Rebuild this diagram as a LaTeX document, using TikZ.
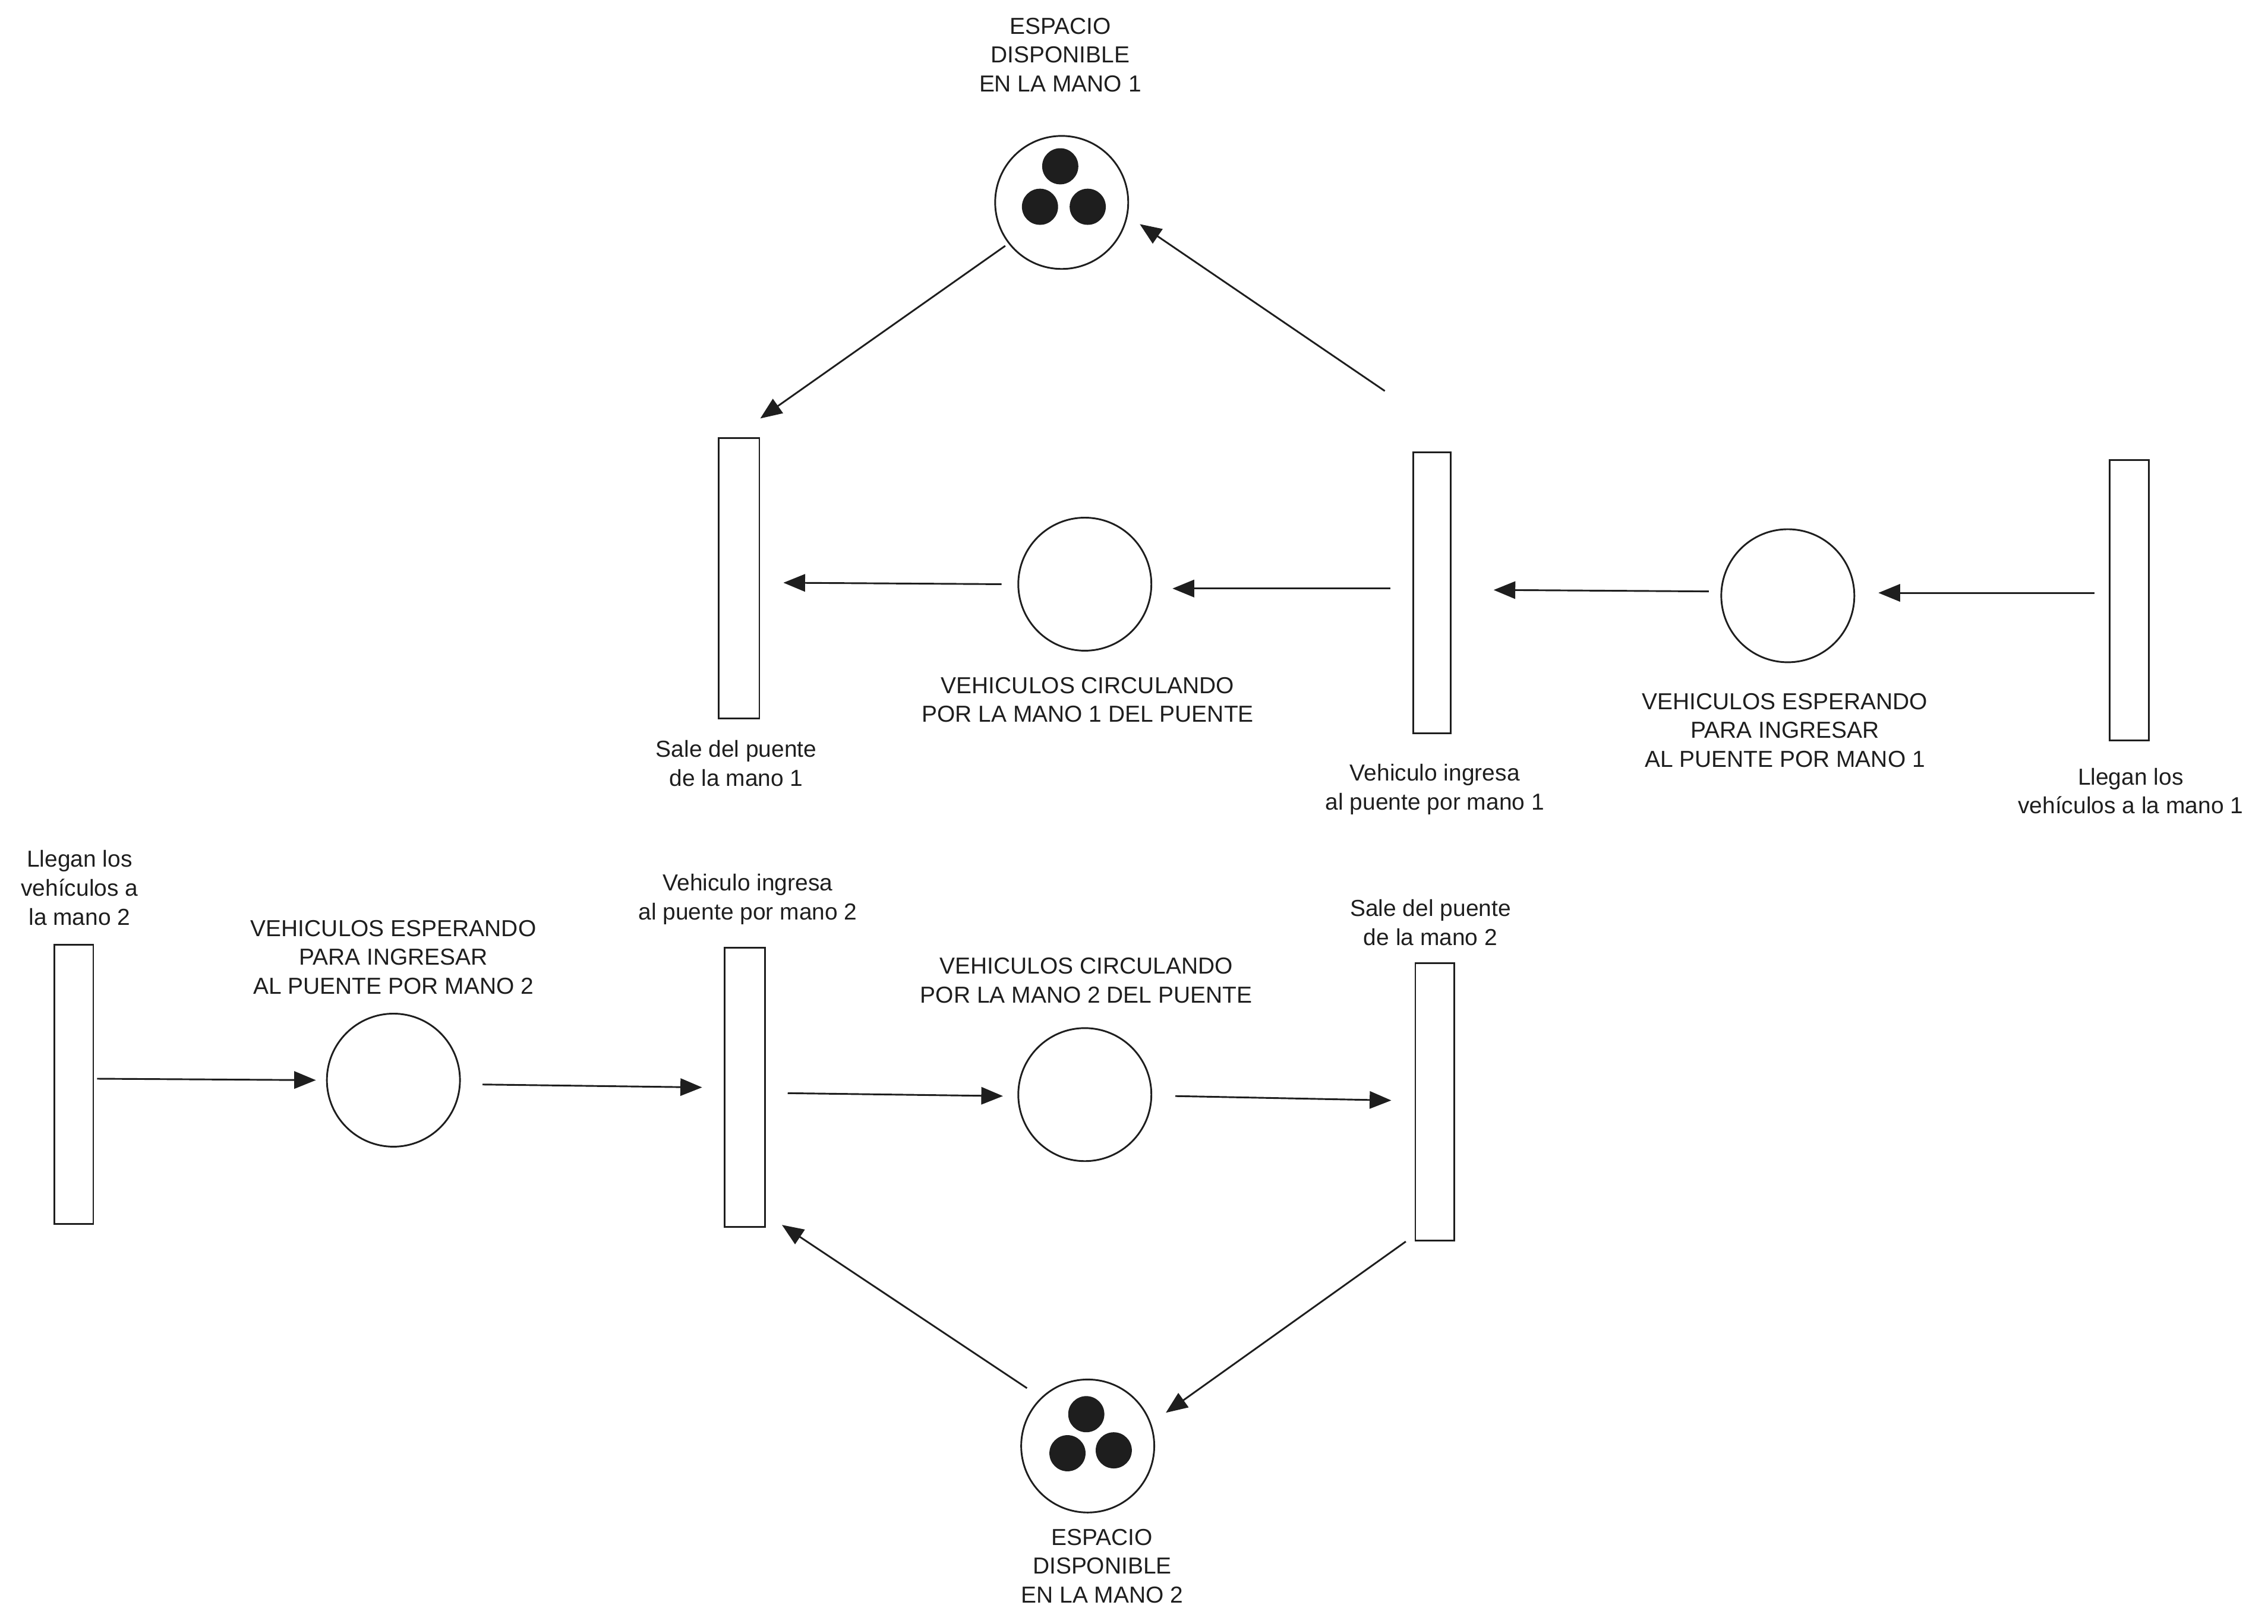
\documentclass[tikz,border=0pt]{standalone}
\usepackage{fontspec}
\setmainfont{Liberation Sans}
\usetikzlibrary{arrows.meta}
\definecolor{ink}{HTML}{1E1E1E}
\tikzset{
  place/.style={circle,draw=ink,line width=1.2pt,minimum size=92pt,inner sep=0pt},
  trans/.style={rectangle,draw=ink,line width=1.2pt,minimum width=27pt,minimum height=194pt,inner sep=0pt},
  lbl/.style={text=ink,align=center,font=\fontsize{16}{20}\selectfont,inner sep=0pt},
  arc/.style={draw=ink,line width=1.2pt,-{Triangle[length=15pt,width=12pt]}},
  tok/.style={fill=ink}
}
\begin{document}
\begin{tikzpicture}[x=1pt,y=-1pt]
\useasboundingbox (0,0) rectangle (1568,1123);
% places
\node[place] (P1) at (734,140) {};
\node[place] (Pc1) at (750,404) {};
\node[place] (Pe1) at (1236,412) {};
\node[place] (Pe2) at (272,747) {};
\node[place] (Pc2) at (750,757) {};
\node[place] (P2) at (752,1000) {};
% tokens
\fill[tok] ([shift={(-1,-25)}]P1.center) circle[radius=12.5pt];
\fill[tok] ([shift={(-15,3)}]P1.center) circle[radius=12.5pt];
\fill[tok] ([shift={(18,3)}]P1.center) circle[radius=12.5pt];
\fill[tok] ([shift={(-1,-22)}]P2.center) circle[radius=12.5pt];
\fill[tok] ([shift={(-14,5)}]P2.center) circle[radius=12.5pt];
\fill[tok] ([shift={(18,3)}]P2.center) circle[radius=12.5pt];
% transitions
\node[trans,minimum width=28pt] (Ts1) at (511,400) {};
\node[trans,minimum width=26pt] (Ti1) at (990,410) {};
\node[trans] (Tl1) at (1472,415) {};
\node[trans,minimum height=193pt] (Tl2) at (51,750) {};
\node[trans,minimum width=28pt,minimum height=193pt] (Ti2) at (515,752) {};
\node[trans,minimum height=192pt] (Ts2) at (992,762) {};
% labels
\node[lbl] (LP1) at (733,38) {ESPACIO\\DISPONIBLE\\EN LA MANO 1};
\node[lbl] (LTs1) at (509,528) {Sale del puente\\de la mano 1};
\node[lbl] (LPc1) at (752,484) {VEHICULOS CIRCULANDO\\POR LA MANO 1 DEL PUENTE};
\node[lbl] (LTi1) at (992,546) {Vehiculo ingresa\\al puente por mano 1};
\node[lbl] (LPe1) at (1234,505) {VEHICULOS ESPERANDO\\PARA INGRESAR\\AL PUENTE POR MANO 1};
\node[lbl] (LTl1) at (1473,547) {Llegan los\\vehículos a la mano 1};
\node[lbl] (LTl2) at (55,614) {Llegan los\\vehículos a\\la mano 2};
\node[lbl] (LPe2) at (272,662) {VEHICULOS ESPERANDO\\PARA INGRESAR\\AL PUENTE POR MANO 2};
\node[lbl] (LTi2) at (517,622) {Vehiculo ingresa\\al puente por mano 2};
\node[lbl] (LPc2) at (751,678) {VEHICULOS CIRCULANDO\\POR LA MANO 2 DEL PUENTE};
\node[lbl] (LTs2) at (989,638) {Sale del puente\\de la mano 2};
\node[lbl] (LP2) at (762,1083) {ESPACIO\\DISPONIBLE\\EN LA MANO 2};
% top row arcs
\draw[arc] ([shift={(-10,-5)}]Tl1.west) -- ([shift={(16,-2)}]Pe1.east);
\draw[arc] ([shift={(-8,-3)}]Pe1.west) -- ([shift={(29,-2)}]Ti1.east);
\draw[arc] ([shift={(-15,-3)}]Ti1.west) -- ([shift={(14,3)}]Pc1.east);
\draw[arc] ([shift={(-11,0)}]Pc1.west) -- ([shift={(16,3)}]Ts1.east);
\draw[arc] ([shift={(-19,-42)}]Ti1.north west) -- ([shift={(54,15)}]P1.center);
\draw[arc] ([shift={(-39,30)}]P1.center) -- ([shift={(0,-13)}]Ts1.north east);
% bottom row arcs
\draw[arc] ([shift={(2,-4)}]Tl2.east) -- ([shift={(-7,0)}]Pe2.west);
\draw[arc] ([shift={(15,3)}]Pe2.east) -- ([shift={(-15,0)}]Ti2.west);
\draw[arc] ([shift={(15,4)}]Ti2.east) -- ([shift={(-10,1)}]Pc2.west);
\draw[arc] ([shift={(16,1)}]Pc2.east) -- ([shift={(-16,-1)}]Ts2.west);
\draw[arc] ([shift={(-6,0)}]Ts2.south west) -- ([shift={(54,-23)}]P2.center);
\draw[arc] ([shift={(-42,-40)}]P2.center) -- ([shift={(11,-2)}]Ti2.south east);
\end{tikzpicture}
\end{document}
